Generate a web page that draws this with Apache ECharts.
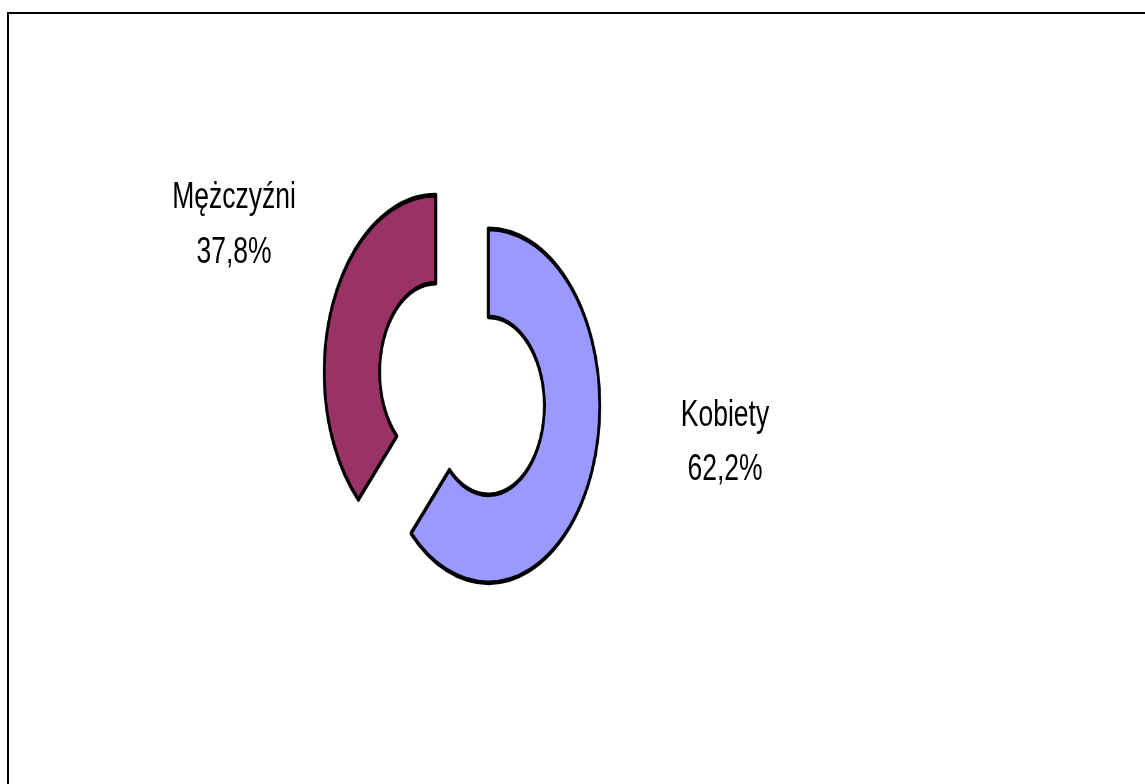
<!DOCTYPE html>
<html>
<head>
<meta charset="utf-8">
<script src="https://cdn.jsdelivr.net/npm/echarts@6/dist/echarts.min.js"></script>
<style>
html, body { margin: 0; padding: 0; background: #fff; }
#pie, #overlay { position: absolute; left: 0; top: 0; width: 1145px; height: 784px; }
/* the original chart is stretched vertically, so squeeze the ring horizontally */
#pie { transform-origin: 462px 389px; transform: scaleX(0.63); }
</style>
</head>
<body>
<div id="pie"></div>
<div id="overlay"></div>
<script>
// data
const categories = ['Kobiety', 'Mężczyźni'];
const shares = [62.2, 37.8];
const sliceColors = ['#9999FF', '#993366'];

// where each label sits (center x, cap-middle of the name line, of the value line)
const labelPos = [
    { x: 725, nameY: 416, valueY: 470 },
    { x: 234, nameY: 198, valueY: 253 }
];

const fmt = v => v.toFixed(1).replace('.', ',') + '%';

const pie = echarts.init(document.getElementById('pie'));
pie.setOption({
    animation: false,
    series: [{
        type: 'pie',
        center: [462, 389],
        radius: [89, 177],
        startAngle: 90,
        clockwise: true,
        selectedMode: 'multiple',
        selectedOffset: 45,
        label: { show: false },
        labelLine: { show: false },
        emphasis: { disabled: true },
        data: categories.map((name, i) => {
            const style = { color: sliceColors[i], borderColor: '#000', borderWidth: 4.6, borderJoin: 'round' };
            return {
                name: name,
                value: shares[i],
                selected: true,
                itemStyle: style,
                select: { itemStyle: style }
            };
        })
    }]
});

const overlay = echarts.init(document.getElementById('overlay'));
const texts = [];
categories.forEach((name, i) => {
    const p = labelPos[i];
    [[name, p.nameY], [fmt(shares[i]), p.valueY]].forEach(([t, y]) => {
        texts.push({
            type: 'text',
            x: p.x,
            y: y,
            scaleY: 1.41,
            silent: true,
            style: {
                x: 0, y: 0,
                text: t,
                fill: '#000',
                font: '26.5px "Liberation Sans", Arial, sans-serif',
                align: 'center',
                verticalAlign: 'middle'
            }
        });
    });
});
overlay.setOption({
    graphic: [
        {
            type: 'rect',
            silent: true,
            shape: { x: 8, y: 13, width: 1300, height: 900 },
            style: { fill: 'none', stroke: '#000', lineWidth: 2 }
        }
    ].concat(texts)
});
</script>
</body>
</html>
